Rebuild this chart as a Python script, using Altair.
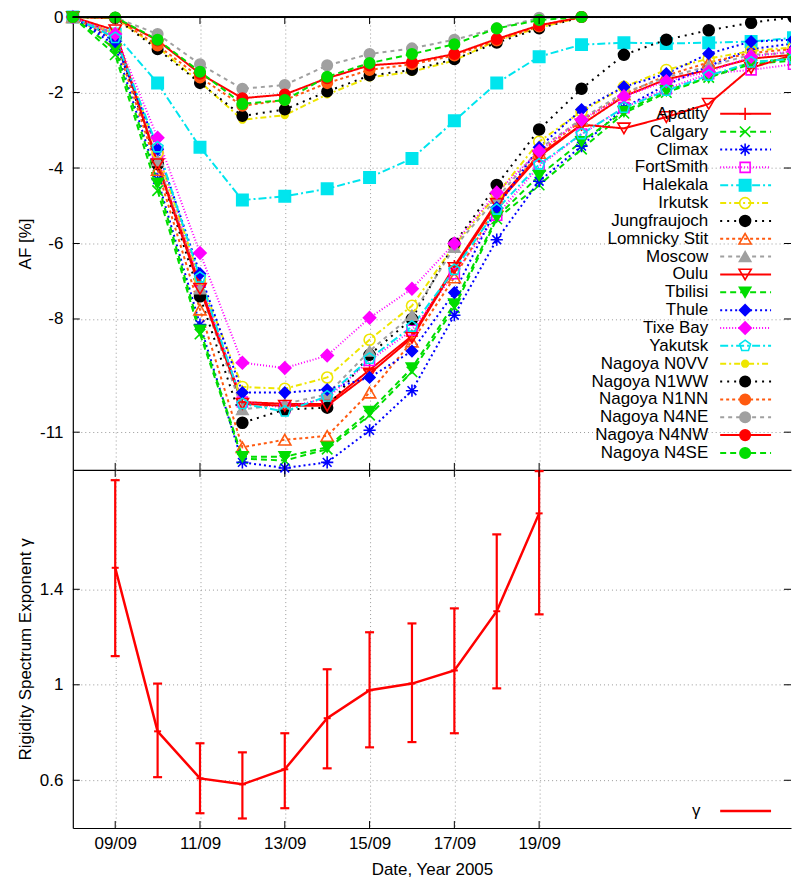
import altair as alt
import pandas as pd

# ------------------------------------------------------------------ data
nm_days = [8, 9, 10, 11, 12, 13, 14, 15, 16, 17, 18, 19, 20, 21, 22, 23, 24, 25]
nagoya_days = [8, 9, 10, 11, 12, 13, 14, 15, 16, 17, 18, 19, 20]

apatity = [0, -0.45, -3.85, -7.1, -10.2, -10.25, -10.25, -9.35, -8.45, -6.6, -4.9, -3.65, -2.85, -2.1, -1.65, -1.4, -1.1, -1.0]
calgary = [0, -1.0, -4.6, -8.4, -11.7, -11.75, -11.45, -10.55, -9.4, -7.7, -5.35, -4.45, -3.5, -2.55, -2.0, -1.6, -1.25, -1.15]
climax = [0, -0.75, -4.3, -8.15, -11.8, -11.95, -11.8, -10.95, -9.9, -7.9, -5.9, -4.35, -3.42, -2.4, -1.8, -1.3, -0.85, -0.7]
fortsmith = [0, -0.5, -3.6, -7.0, -10.2, -10.35, -10.1, -9.1, -8.3, -6.8, -5.25, -3.95, -3.1, -2.4, -1.9, -1.5, -1.4, -1.25]
halekala = [0, -0.45, -1.75, -3.45, -4.85, -4.75, -4.55, -4.25, -3.75, -2.75, -1.75, -1.05, -0.73, -0.68, -0.7, -0.68, -0.65, -0.55]
irkutsk = [0, -0.45, -3.6, -6.95, -9.8, -9.85, -9.55, -8.55, -7.65, -6.05, -4.7, -3.3, -2.5, -1.85, -1.4, -1.1, -0.9, -0.8]
jungfraujoch = [0, -0.55, -3.9, -7.4, -10.75, -10.4, -10.35, -8.95, -8.0, -6.0, -4.45, -2.98, -1.9, -1.0, -0.6, -0.35, -0.15, 0.0]
lomnicky = [0, -0.6, -4.05, -7.75, -11.4, -11.2, -11.1, -9.95, -8.6, -6.9, -5.0, -3.6, -2.75, -2.05, -1.55, -1.2, -0.95, -0.85]
moscow = [0, -0.5, -3.8, -7.2, -10.4, -10.25, -10.0, -8.85, -7.9, -6.1, -4.8, -3.5, -2.7, -2.0, -1.6, -1.3, -1.0, -0.95]
oulu = [0, -0.35, -3.9, -7.2, -10.25, -10.3, -10.3, -9.45, -8.5, -6.65, -4.95, -3.7, -2.85, -2.95, -2.65, -2.3, -1.35, -1.0]
tbilisi = [0, -0.85, -4.4, -8.3, -11.65, -11.65, -11.4, -10.45, -9.3, -7.6, -5.3, -4.2, -3.3, -2.5, -1.95, -1.6, -1.2, -1.1]
thule = [0, -0.65, -3.5, -6.8, -9.95, -9.95, -9.87, -9.55, -8.85, -7.3, -5.05, -3.45, -2.45, -1.85, -1.5, -0.97, -0.65, -0.6]
tixe_bay = [0, -0.45, -3.2, -6.25, -9.16, -9.3, -8.97, -7.97, -7.2, -6.0, -4.65, -3.55, -2.72, -2.1, -1.7, -1.45, -1.05, -0.9]
yakutsk = [0, -0.55, -3.45, -6.9, -10.25, -10.45, -10.05, -9.05, -8.2, -6.7, -5.1, -3.9, -3.1, -2.4, -1.95, -1.55, -1.2, -1.1]

n0vv = [0, -0.03, -0.8, -1.72, -2.72, -2.6, -2.05, -1.6, -1.45, -1.15, -0.62, -0.28, 0]
n1ww = [0, -0.03, -0.85, -1.75, -2.62, -2.45, -1.97, -1.55, -1.4, -1.12, -0.68, -0.3, 0]
n1nn = [0, -0.02, -0.75, -1.6, -2.35, -2.2, -1.75, -1.4, -1.25, -1.02, -0.62, -0.25, 0]
n4ne = [0, -0.01, -0.45, -1.25, -1.9, -1.8, -1.28, -0.98, -0.83, -0.6, -0.3, -0.02, 0]
n4nw = [0, -0.02, -0.62, -1.5, -2.15, -2.05, -1.62, -1.28, -1.2, -0.98, -0.58, -0.22, 0]
n4se = [0, -0.01, -0.6, -1.45, -2.3, -2.2, -1.58, -1.22, -0.98, -0.72, -0.3, -0.08, 0]

stations = ["Apatity", "Calgary", "Climax", "FortSmith", "Halekala", "Irkutsk",
            "Jungfraujoch", "Lomnicky Stit", "Moscow", "Oulu", "Tbilisi", "Thule",
            "Tixe Bay", "Yakutsk", "Nagoya N0VV", "Nagoya N1WW", "Nagoya N1NN",
            "Nagoya N4NE", "Nagoya N4NW", "Nagoya N4SE"]
station_values = [apatity, calgary, climax, fortsmith, halekala, irkutsk,
                  jungfraujoch, lomnicky, moscow, oulu, tbilisi, thule,
                  tixe_bay, yakutsk, n0vv, n1ww, n1nn, n4ne, n4nw, n4se]

gamma_days = [9, 10, 11, 12, 13, 14, 15, 16, 17, 18, 19]
gamma = [1.49, 0.805, 0.608, 0.583, 0.646, 0.86, 0.977, 1.005, 1.06, 1.308, 1.718]
gamma_lo = [1.12, 0.613, 0.462, 0.44, 0.483, 0.65, 0.738, 0.76, 0.797, 0.985, 1.295]
gamma_hi = [1.857, 1.005, 0.755, 0.717, 0.797, 1.065, 1.22, 1.257, 1.32, 1.63, 1.895]

tick_days = [9, 11, 13, 15, 17, 19]
af_ticks = [0, -2, -4, -6, -8, -11]
gamma_ticks = [0.6, 1, 1.4]
gamma_legend = ["γ"]

# ------------------------------------------------------------------ style
FONT = "Liberation Sans"
FS = 17
RED, GREEN, BLUE = "#ff0000", "#00dd00", "#0000ff"
MAGENTA, CYAN, YELLOW = "#ff00ff", "#00e5ee", "#eee600"
BLACK, ORANGE, GRAY = "#000000", "#ff5a10", "#a0a0a0"
NONE = "transparent"
SOLID = [1, 0]

PLUS = "M-1,0L1,0M0,-1L0,1"
XSHAPE = "M-1,-1L1,1M-1,1L1,-1"
STAR = "M-1,0L1,0M0,-1L0,1M-0.72,-0.72L0.72,0.72M-0.72,0.72L0.72,-0.72"
PENT = "M0,-1L0.951,-0.309L0.588,0.809L-0.588,0.809L-0.951,-0.309Z"

colors = [RED, GREEN, BLUE, MAGENTA, CYAN, YELLOW, BLACK, ORANGE, GRAY, RED,
          GREEN, BLUE, MAGENTA, CYAN, YELLOW, BLACK, ORANGE, GRAY, RED, GREEN]
fills = [NONE, NONE, NONE, NONE, CYAN, NONE, BLACK, NONE, GRAY, NONE,
         GREEN, BLUE, MAGENTA, NONE, YELLOW, BLACK, ORANGE, GRAY, RED, GREEN]
shapes = [PLUS, XSHAPE, STAR, "square", "square", "circle", "circle", "triangle-up",
          "triangle-up", "triangle-down", "triangle-down", "diamond", "diamond", PENT,
          "circle", "circle", "circle", "circle", "circle", "circle"]
sizes = [150, 110, 150, 100, 130, 120, 120, 150, 130, 150,
         130, 120, 150, 130, 45, 110, 110, 110, 110, 110]
dashes = [SOLID, [6, 4], [2, 3], [1, 2], [8, 3, 2, 3], [6, 3, 2, 3], [2, 5], [3, 3], [4, 4], SOLID,
          [6, 4], [2, 3], [1, 2], [8, 3, 2, 3], [6, 3, 2, 3], [2, 5], [3, 3], [4, 4], SOLID, [6, 4]]

W, H1, H2 = 720, 454, 359
PX_PER_DAY = 42.5
TL = 7  # inward tick length

# ------------------------------------------------------------------ frames
rows = []
for st, vals in zip(stations, station_values):
    days = nm_days if len(vals) == len(nm_days) else nagoya_days
    for d, v in zip(days, vals):
        rows.append({"station": st, "day": d, "af": v})
df = pd.DataFrame(rows)
xmax = nm_days[0] + W / PX_PER_DAY
df_in = df[df["day"] <= xmax]
df_edge = df[df["day"] > xmax]

xs = alt.Scale(domain=[nm_days[0], xmax], nice=False, zero=False)
ys1 = alt.Scale(domain=[-12, 0], nice=False, zero=False)
ys2 = alt.Scale(domain=[0.4, 1.9], nice=False, zero=False)

stroke_s = alt.Stroke("station:N", scale=alt.Scale(type="ordinal", domain=stations, range=colors), legend=None)
fill_s = alt.Fill("station:N", scale=alt.Scale(type="ordinal", domain=stations, range=fills), legend=None)
shape_s = alt.Shape("station:N", scale=alt.Scale(type="ordinal", domain=stations, range=shapes), legend=None)
size_s = alt.Size("station:N", scale=alt.Scale(type="ordinal", domain=stations, range=sizes), legend=None)
dash_s = alt.StrokeDash("station:N", scale=alt.Scale(type="ordinal", domain=stations, range=dashes), legend=None)

x_label_expr = "(datum.value < 10 ? '0' : '') + datum.value + '/09'"

# ------------------------------------------------------------------ top panel
x_top = alt.X("day:Q", scale=xs, axis=alt.Axis(values=tick_days, labels=False, ticks=False,
                                                grid=True, title=None, domainColor=BLACK,
                                                minExtent=0, maxExtent=0))
y_top = alt.Y("af:Q", scale=ys1, axis=alt.Axis(values=af_ticks, labelExpr="'' + datum.value",
                                                title="AF [%]", ticks=False, grid=True))

lines = alt.Chart(df).mark_line(strokeWidth=2, clip=True).encode(
    x=x_top, y=y_top, stroke=stroke_s, strokeDash=dash_s)

pts = alt.Chart(df_in).mark_point(opacity=1, strokeWidth=1.6).encode(
    x=alt.X("day:Q", scale=xs), y=alt.Y("af:Q", scale=ys1),
    stroke=stroke_s, fill=fill_s, shape=shape_s, size=size_s)
pts_edge = alt.Chart(df_edge).mark_point(opacity=1, strokeWidth=1.6, clip=True).encode(
    x=alt.X("day:Q", scale=xs), y=alt.Y("af:Q", scale=ys1),
    stroke=stroke_s, fill=fill_s, shape=shape_s, size=size_s)

xt = pd.DataFrame({"day": tick_days})
yt1 = pd.DataFrame({"af": af_ticks})
tick_top_a = alt.Chart(xt).mark_rule(color=BLACK).encode(x=alt.X("day:Q", scale=xs), y=alt.value(0), y2=alt.value(TL))
tick_top_b = alt.Chart(xt).mark_rule(color=BLACK).encode(x=alt.X("day:Q", scale=xs), y=alt.value(H1 - TL), y2=alt.value(H1))
tick_top_l = alt.Chart(yt1).mark_rule(color=BLACK).encode(y=alt.Y("af:Q", scale=ys1), x=alt.value(0), x2=alt.value(TL))
tick_top_r = alt.Chart(yt1).mark_rule(color=BLACK).encode(y=alt.Y("af:Q", scale=ys1), x=alt.value(W - TL), x2=alt.value(W))
frame_top = alt.Chart(xt).mark_rule(color=BLACK, strokeWidth=1.2).encode(x=alt.value(0), x2=alt.value(W), y=alt.value(0))

main_top = alt.layer(lines, pts, pts_edge, tick_top_a, tick_top_b, tick_top_l, tick_top_r, frame_top)

leg_df = pd.DataFrame({"station": stations})
leg_y = alt.Y("station:N", scale=alt.Scale(type="point", domain=stations, range=[97, 437], padding=0), axis=None)
leg_rule = alt.Chart(leg_df).mark_rule(strokeWidth=2).encode(
    x=alt.value(649), x2=alt.value(700), y=leg_y, stroke=stroke_s, strokeDash=dash_s)
leg_pts = alt.Chart(leg_df).mark_point(opacity=1, strokeWidth=1.6).encode(
    x=alt.value(674), y=leg_y, stroke=stroke_s, fill=fill_s, shape=shape_s, size=size_s)
leg_txt = alt.Chart(leg_df).mark_text(align="right", baseline="middle", font=FONT, fontSize=FS, color=BLACK).encode(
    x=alt.value(637), y=leg_y, text="station:N")
legend_top = alt.layer(leg_rule, leg_pts, leg_txt)

top = alt.layer(main_top, legend_top).resolve_scale(y="independent").properties(width=W, height=H1)

# ------------------------------------------------------------------ bottom panel
gdf = pd.DataFrame({"day": gamma_days, "g": gamma, "lo": gamma_lo, "hi": gamma_hi})
x_bot = alt.X("day:Q", scale=xs, axis=alt.Axis(values=tick_days, labelExpr=x_label_expr, ticks=False,
                                                grid=True, title="Date, Year 2005", domainColor=BLACK,
                                                labelPadding=8, titlePadding=10))
y_bot = alt.Y("g:Q", scale=ys2, axis=alt.Axis(values=gamma_ticks, labelExpr="'' + datum.value",
                                               title="Rigidity Spectrum Exponent γ", ticks=False, grid=True))
gline = alt.Chart(gdf).mark_line(color=RED, strokeWidth=2.5).encode(x=x_bot, y=y_bot)
gbar = alt.Chart(gdf).mark_rule(color=RED, strokeWidth=2.2).encode(
    x=alt.X("day:Q", scale=xs), y=alt.Y("lo:Q", scale=ys2), y2="hi:Q")
gcap_lo = alt.Chart(gdf).mark_tick(color=RED, thickness=2.2, size=9, orient="horizontal", opacity=1).encode(
    x=alt.X("day:Q", scale=xs), y=alt.Y("lo:Q", scale=ys2))
gcap_hi = alt.Chart(gdf).mark_tick(color=RED, thickness=2.2, size=9, orient="horizontal", opacity=1).encode(
    x=alt.X("day:Q", scale=xs), y=alt.Y("hi:Q", scale=ys2))
gcen = alt.Chart(gdf).mark_tick(color=RED, thickness=2, size=7, orient="horizontal", opacity=1).encode(
    x=alt.X("day:Q", scale=xs), y=alt.Y("g:Q", scale=ys2))

yt2 = pd.DataFrame({"g": gamma_ticks})
tick_bot_a = alt.Chart(xt).mark_rule(color=BLACK).encode(x=alt.X("day:Q", scale=xs), y=alt.value(0), y2=alt.value(TL))
tick_bot_b = alt.Chart(xt).mark_rule(color=BLACK).encode(x=alt.X("day:Q", scale=xs), y=alt.value(H2 - TL), y2=alt.value(H2))
tick_bot_l = alt.Chart(yt2).mark_rule(color=BLACK).encode(y=alt.Y("g:Q", scale=ys2), x=alt.value(0), x2=alt.value(TL))
tick_bot_r = alt.Chart(yt2).mark_rule(color=BLACK).encode(y=alt.Y("g:Q", scale=ys2), x=alt.value(W - TL), x2=alt.value(W))

gl_df = pd.DataFrame({"label": gamma_legend})
gleg_txt = alt.Chart(gl_df).mark_text(font=FONT, fontSize=FS, align="center", baseline="middle", color=BLACK).encode(
    x=alt.value(625), y=alt.value(342), text="label:N")
gleg_line = alt.Chart(gl_df).mark_rule(color=RED, strokeWidth=2.5).encode(
    x=alt.value(649), x2=alt.value(700), y=alt.value(342))

bottom = alt.layer(gline, gbar, gcap_lo, gcap_hi, gcen, tick_bot_a, tick_bot_b, tick_bot_l, tick_bot_r,
                   gleg_txt, gleg_line).properties(width=W, height=H2)

# ------------------------------------------------------------------ compose
chart = alt.vconcat(top, bottom, spacing=0, bounds="flush").properties(
    padding={"left": 16, "top": 6, "right": 0, "bottom": 0}
).configure_view(stroke="transparent").configure_axis(
    labelFont=FONT, titleFont=FONT, labelFontSize=FS, titleFontSize=FS,
    labelColor=BLACK, titleColor=BLACK, titleFontWeight="normal",
    gridColor="#9a9a9a", gridDash=[1, 3], gridWidth=1, domainColor=BLACK, domainWidth=1.2,
).configure_axisY(
    labelPadding=10, titlePadding=6, minExtent=32, maxExtent=32
)

chart.save("out.html", embed_options={"renderer": "svg", "actions": False})
